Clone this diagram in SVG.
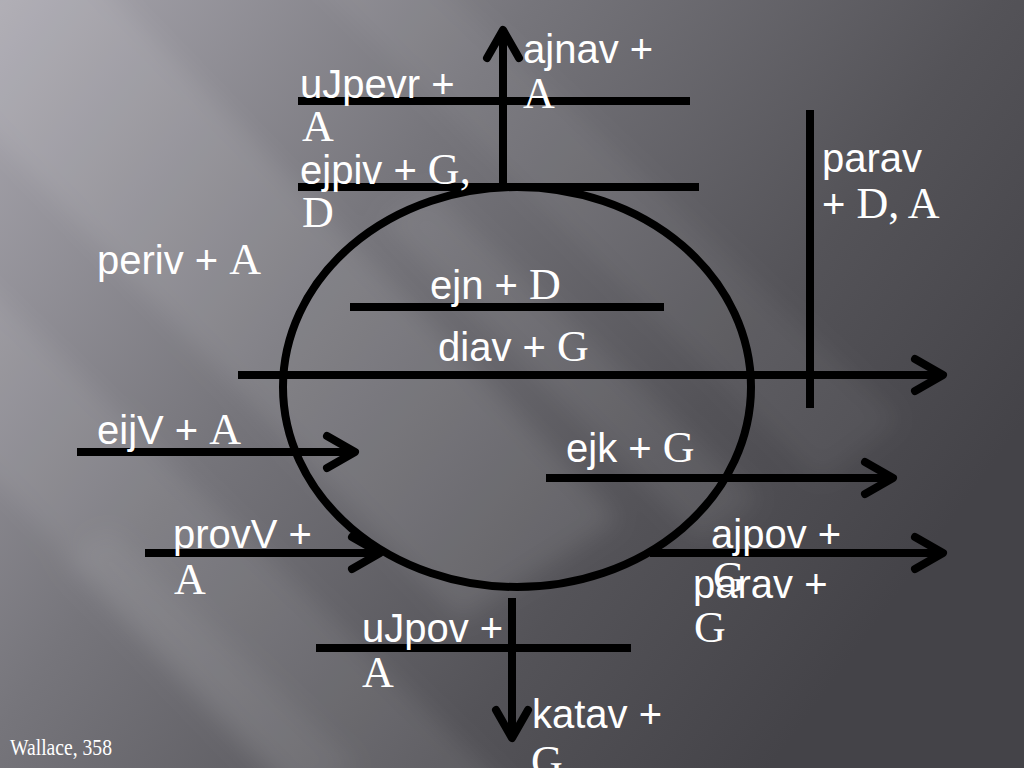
<svg xmlns="http://www.w3.org/2000/svg" width="1024" height="768" viewBox="0 0 1024 768">
<defs>
<linearGradient id="bg" x1="0" y1="0" x2="1" y2="0.55">
<stop offset="0" stop-color="#a9a7af"/>
<stop offset="0.4" stop-color="#76757b"/>
<stop offset="0.75" stop-color="#545358"/>
<stop offset="1" stop-color="#444348"/>
</linearGradient>
<filter id="blur" x="-20%" y="-20%" width="140%" height="140%"><feGaussianBlur stdDeviation="12"/></filter>
<marker id="ah" viewBox="-40 -25 50 50" refX="0" refY="0" markerWidth="50" markerHeight="50" markerUnits="userSpaceOnUse" orient="auto">
<path d="M-28,-16 L0,0 L-28,16" fill="none" stroke="#000" stroke-width="8" stroke-linecap="round" stroke-linejoin="round"/>
</marker>
<style>
.ln{stroke:#000;stroke-width:8;fill:none}
.t{font-family:"Liberation Sans",Arial,sans-serif;font-size:40px;fill:#fff}
.g{font-family:"Liberation Serif","Times New Roman",serif;font-size:44px}
.w{font-family:"Liberation Serif","Times New Roman",serif;font-size:23px;fill:#fff}
</style>
</defs>
<rect width="1024" height="768" fill="url(#bg)"/>
<g filter="url(#blur)" fill="#ffffff">
<polygon points="-100,40 60,-60 620,520 460,620" opacity="0.09"/>
<polygon points="-150,330 -40,260 520,800 380,880" opacity="0.08"/>
<polygon points="250,-80 330,-120 900,420 820,480" opacity="0.05"/>
<polygon points="380,220 430,190 760,500 700,540" opacity="0.07"/>
<polygon points="60,560 110,530 360,768 290,800" opacity="0.06"/>
</g>
<g id="connectors">
<ellipse cx="517" cy="387" rx="234" ry="200" class="ln" stroke-width="7"/>
<line x1="503" y1="185" x2="503" y2="30" class="ln" marker-end="url(#ah)"/>
<line x1="298" y1="101" x2="690" y2="101" class="ln"/>
<line x1="298" y1="187" x2="699" y2="187" class="ln"/>
<line x1="810" y1="110" x2="810" y2="408" class="ln"/>
<line x1="350" y1="307" x2="664" y2="307" class="ln"/>
<line x1="238" y1="375" x2="943" y2="375" class="ln" marker-end="url(#ah)"/>
<line x1="77" y1="452" x2="355" y2="452" class="ln" marker-end="url(#ah)"/>
<line x1="546" y1="478" x2="893" y2="478" class="ln" marker-end="url(#ah)"/>
<line x1="145" y1="553" x2="380" y2="553" class="ln" marker-end="url(#ah)"/>
<line x1="650" y1="553" x2="943" y2="553" class="ln" marker-end="url(#ah)"/>
<line x1="316" y1="648" x2="631" y2="648" class="ln"/>
<line x1="512" y1="598" x2="512" y2="738" class="ln" marker-end="url(#ah)"/>
</g>
<g id="ana"><text class="t" x="523" y="63">ajnav +</text><text class="t" x="523" y="108"><tspan class="g">A</tspan></text></g>
<g id="hyper"><text class="t" x="300" y="98">uJpevr +</text><text class="t" x="302" y="141"><tspan class="g">A</tspan></text></g>
<g id="epi"><text class="t" x="300" y="184">ejpiv + <tspan class="g">G,</tspan></text><text class="t" x="302" y="227"><tspan class="g">D</tspan></text></g>
<g id="para1"><text class="t" x="822" y="172">parav</text><text class="t" x="822" y="218">+ <tspan class="g">D, A</tspan></text></g>
<g id="peri"><text class="t" x="97" y="274">periv + <tspan class="g">A</tspan></text></g>
<g id="en"><text class="t" x="430" y="299">ejn + <tspan class="g">D</tspan></text></g>
<g id="dia"><text class="t" x="438" y="361">diav + <tspan class="g">G</tspan></text></g>
<g id="eis"><text class="t" x="97" y="444">eijV + <tspan class="g">A</tspan></text></g>
<g id="ek"><text class="t" x="566" y="462">ejk + <tspan class="g">G</tspan></text></g>
<g id="pros"><text class="t" x="173" y="548">provV +</text><text class="t" x="174" y="594"><tspan class="g">A</tspan></text></g>
<g id="apo"><text class="t" x="711" y="548">ajpov +</text><text class="t" x="713" y="592"><tspan class="g">G</tspan></text></g>
<g id="para2"><text class="t" x="693" y="598">parav +</text><text class="t" x="694" y="642"><tspan class="g">G</tspan></text></g>
<g id="hypo"><text class="t" x="362" y="642">uJpov +</text><text class="t" x="362" y="687"><tspan class="g">A</tspan></text></g>
<g id="kata"><text class="t" x="532" y="728">katav +</text><text class="t" x="531" y="776"><tspan class="g">G</tspan></text></g>
<g id="credit"><text class="w" x="10" y="755" textLength="102" lengthAdjust="spacingAndGlyphs">Wallace, 358</text></g>
</svg>
